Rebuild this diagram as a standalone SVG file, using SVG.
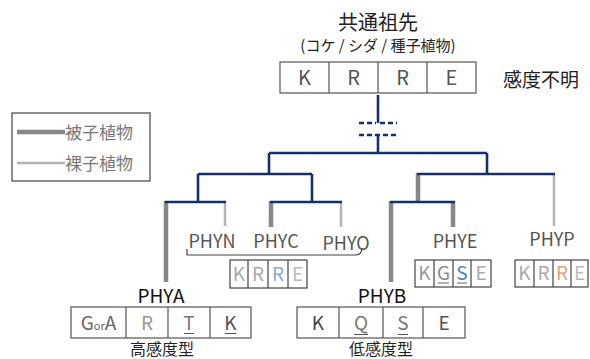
<svg xmlns="http://www.w3.org/2000/svg" width="590" height="359" viewBox="0 0 590 359">
<style>
text{font-family:"Noto Sans CJK JP","Liberation Sans",sans-serif}
.box{fill:#fff;stroke:#555;stroke-width:1.2}
.sbox{fill:#fff;stroke:#444;stroke-width:1.2}
.navy{stroke:#14306e;stroke-width:2.6;fill:none}
.thick{stroke:#888;stroke-width:4.5;fill:none}
.thin{stroke:#b4b4b4;stroke-width:2.5;fill:none}
.big{font-size:20px;text-anchor:middle;fill:#555}
.mid{font-size:19px;text-anchor:middle}
.sm{font-size:19px;text-anchor:middle}
.lab{font-size:18px;text-anchor:middle;fill:#555}
.blab{font-size:19px;text-anchor:middle;fill:#111}
</style>
<rect width="590" height="359" fill="#fff"/>
<g id="ancestor">
<text x="378" y="30" font-size="20" text-anchor="middle" fill="#222">共通祖先</text>
<text x="378" y="51" font-size="15" text-anchor="middle" fill="#222">(コケ / シダ / 種子植物)</text>
<rect class="box" x="280" y="62" width="196" height="31"/>
<line x1="329" y1="62" x2="329" y2="93" stroke="#555" stroke-width="1.2"/>
<line x1="378" y1="62" x2="378" y2="93" stroke="#555" stroke-width="1.2"/>
<line x1="427" y1="62" x2="427" y2="93" stroke="#555" stroke-width="1.2"/>
<text class="big" x="304.5" y="85">K</text>
<text class="big" x="353.5" y="85">R</text>
<text class="big" x="402.5" y="85">R</text>
<text class="big" x="451.5" y="85">E</text>
<text x="541" y="87" font-size="19" text-anchor="middle" fill="#222">感度不明</text>
</g>
<g id="legend">
<rect x="12" y="113" width="138" height="68" fill="#fff" stroke="#444" stroke-width="1.2"/>
<line x1="17" y1="132" x2="65" y2="132" class="thick"/>
<text x="65" y="139" font-size="17" fill="#777">被子植物</text>
<line x1="17" y1="163" x2="65" y2="163" class="thin"/>
<text x="65" y="170" font-size="17" fill="#777">裸子植物</text>
</g>
<g id="connectors">
<path class="thick" d="M166,201V282 M271,201V227 M391,201V282 M453,201V227 M418,173V201"/>
<path class="thin" d="M225,201V226 M341,201V227 M554,173V226"/>
<path class="navy" d="M378,95V123 M378,135V153 M269,153H487 M269,153V174 M198,174H312 M198,174V202 M312,174V202 M165,202H226 M270,202H342 M487,153V174 M417,174H555 M390,202H455"/>
<path class="navy" stroke-dasharray="5 3" d="M359,123H376 M380,123H397 M359,135H397"/>
<path d="M187,249V255H355Q362,255 362,248" fill="none" stroke="#444" stroke-width="1.2"/>
</g>
<g id="PHYN-group">
<text class="lab" x="212" y="248">PHYN</text>
<text class="lab" x="276" y="248">PHYC</text>
<text class="lab" x="346" y="250">PHYO</text>
<rect class="sbox" x="230" y="260" width="77" height="28"/>
<path d="M248,260V288M268,260V288M288,260V288" stroke="#444" stroke-width="1.2"/>
<text class="sm" x="239" y="281" fill="#aaa">K</text>
<text class="sm" x="258" y="281" fill="#aaa">R</text>
<text class="sm" x="278" y="281" fill="#8aa6d6">R</text>
<text class="sm" x="297.5" y="281" fill="#bbb">E</text>
</g>
<g id="PHYE">
<text class="lab" x="455" y="248">PHYE</text>
<rect class="sbox" x="415" y="260" width="76" height="27"/>
<path d="M434,260V287M453,260V287M471,260V287" stroke="#444" stroke-width="1.2"/>
<text class="sm" x="424.5" y="280" fill="#999">K</text>
<text class="sm" x="443.5" y="280" fill="#888">G</text>
<text class="sm" x="462" y="280" fill="#5b7fb5">S</text>
<text class="sm" x="481" y="280" fill="#aaa">E</text>
<path d="M438,283H449M457,283H467" stroke="#666" stroke-width="1.2"/>
</g>
<g id="PHYP">
<text class="lab" x="552" y="246">PHYP</text>
<rect class="sbox" x="515" y="260" width="73" height="27"/>
<path d="M534,260V287M553,260V287M571,260V287" stroke="#444" stroke-width="1.2"/>
<text class="sm" x="524.5" y="280" fill="#aaa">K</text>
<text class="sm" x="543.5" y="280" fill="#aaa">R</text>
<text class="sm" x="562" y="280" fill="#e0a27c">R</text>
<text class="sm" x="579.5" y="280" fill="#bbb">E</text>
</g>
<g id="PHYA">
<text class="blab" x="161" y="303">PHYA</text>
<rect class="box" x="71" y="307" width="180" height="31"/>
<path d="M126,307V338M168,307V338M210,307V338" stroke="#555" stroke-width="1.2"/>
<text class="mid" x="98.5" y="329.5" fill="#666"><tspan>G</tspan><tspan font-size="11">or</tspan><tspan>A</tspan></text>
<text class="mid" x="147" y="329.5" fill="#999">R</text>
<text class="mid" x="189" y="329.5" fill="#777">T</text>
<text class="mid" x="230.5" y="329.5" fill="#555">K</text>
<path d="M184,333.5H194M225,333.5H236" stroke="#555" stroke-width="1.2"/>
<text x="162" y="354.5" font-size="16" text-anchor="middle" fill="#222">高感度型</text>
</g>
<g id="PHYB">
<text class="blab" x="382" y="303">PHYB</text>
<rect class="box" x="297" y="307" width="168" height="31"/>
<path d="M339,307V338M383,307V338M423,307V338" stroke="#555" stroke-width="1.2"/>
<text class="mid" x="318" y="329.5" fill="#444">K</text>
<text class="mid" x="361" y="329.5" fill="#777">Q</text>
<text class="mid" x="403" y="329.5" fill="#777">S</text>
<text class="mid" x="444" y="329.5" fill="#555">E</text>
<path d="M354,334.5H368M398,334.5H408" stroke="#555" stroke-width="1.2"/>
<text x="381" y="354.5" font-size="16" text-anchor="middle" fill="#222">低感度型</text>
</g>
</svg>
